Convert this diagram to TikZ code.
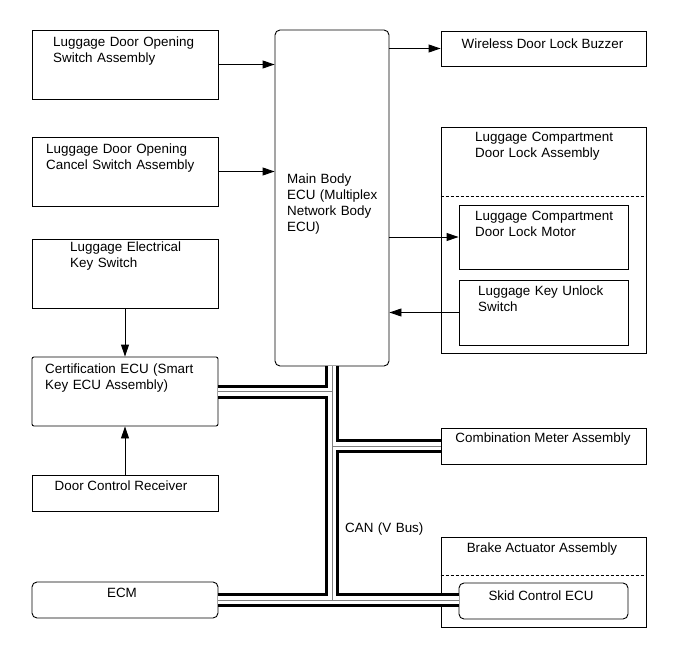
\documentclass[tikz,border=0pt]{standalone}
\usepackage{fontspec}
\setmainfont{Liberation Sans}
\usetikzlibrary{arrows.meta}

\begin{document}
\begin{tikzpicture}[x=1pt,y=-1pt,
  box/.style={draw,line width=0.9pt,minimum width=186pt,minimum height=69pt,inner sep=0pt},
  rbox/.style={box,rounded corners=5pt},
  txt/.style={font=\fontsize{13.4}{16}\selectfont,inner sep=0pt,anchor=base west,align=left,text width=180pt},
  ctxt/.style={font=\fontsize{13.4}{16}\selectfont,inner sep=0pt,anchor=base},
  arr/.style={-{Triangle[length=12pt,width=8pt]},line width=0.9pt},
  sep/.style={line width=0.8pt,dash pattern=on 3pt off 2pt}]
\useasboundingbox (0,0) rectangle (689,659);

\node[box] (ldos) at (125,64.5) {};
\node[box] (ldoc) at (125,171.5) {};
\node[box] (lek) at (125,273.5) {};
\node[box,rounded corners=2pt] (cert) at (125,391.5) {};
\node[box,minimum height=36pt] (dcr) at (125,493) {};
\node[rbox,minimum height=36pt] (ecm) at (125,600) {};
\node[rbox,minimum width=114pt,minimum height=336pt] (mb) at (332,198) {};
\node[box,minimum width=205pt,minimum height=35pt] (wdlb) at (543.5,48.5) {};
\node[box,minimum width=205pt,minimum height=226pt] (lcdla) at (543.5,240) {};
\node[box,minimum width=169pt,minimum height=64pt] (lcdlm) at (543.5,237) {};
\node[box,minimum width=169pt,minimum height=65pt] (lkus) at (543.5,312.5) {};
\node[box,minimum width=205pt,minimum height=36pt] (cma) at (543.5,446) {};
\node[box,minimum width=205pt,minimum height=90pt] (baa) at (543.5,582) {};
\node[rbox,minimum width=169pt,minimum height=36pt] (scecu) at (543.5,601) {};

\draw[sep] (lcdla.west |- 0,196) -- (lcdla.east |- 0,196);
\draw[sep] (baa.west |- 0,575) -- (baa.east |- 0,575);

\node[txt] (t1) at (53,46.7) {Luggage Door Opening\\Switch Assembly};
\node[txt] (t2) at (46,153) {Luggage Door Opening\\Cancel Switch Assembly};
\node[txt] (t3) at (70,251.7) {Luggage Electrical\\Key Switch};
\node[txt] (t4) at (45,373.3) {Certification ECU (Smart\\Key ECU Assembly)};
\node[ctxt] (t5) at (121,490) {Door Control Receiver};
\node[ctxt] (t6) at (122,597.7) {ECM};
\node[txt] (t7) at (287,183.3) {Main Body\\ECU (Multiplex\\Network Body\\ECU)};
\node[ctxt] (t8) at (542.5,48.3) {Wireless Door Lock Buzzer};
\node[txt] (t9) at (475,141.7) {Luggage Compartment\\Door Lock Assembly};
\node[txt] (t10) at (475,220) {Luggage Compartment\\Door Lock Motor};
\node[txt] (t11) at (478,295.7) {Luggage Key Unlock\\Switch};
\node[ctxt] (t12) at (543,442.7) {Combination Meter Assembly};
\node[ctxt] (t13) at (542,552.3) {Brake Actuator Assembly};
\node[ctxt] (t14) at (541,600.7) {Skid Control ECU};
\node[txt] (t15) at (345,532.7) {CAN (V Bus)};

\draw[arr] (ldos.east) -- (ldos.east -| mb.west);
\draw[arr] (ldoc.east) -- (ldoc.east -| mb.west);
\draw[arr] (mb.east |- wdlb.west) -- (wdlb.west);
\draw[arr] (mb.east |- lcdlm.west) -- (lcdlm.west);
\draw[arr] (lkus.west) -- (lkus.west -| mb.east);
\draw[arr] (lek.south) -- (cert.north);
\draw[arr] (dcr.north) -- (cert.south);

\foreach \w/\c in {14/black,8/white,0.8/gray}
  \draw[line width=\w pt,\c] (mb.south) -- (mb.south |- ecm.east)
    (ecm.east) -- (ecm.east -| scecu.west)
    (cert.east) -- (cert.east -| mb.south)
    (mb.south |- cma.west) -- (cma.west);
\end{tikzpicture}
\end{document}
